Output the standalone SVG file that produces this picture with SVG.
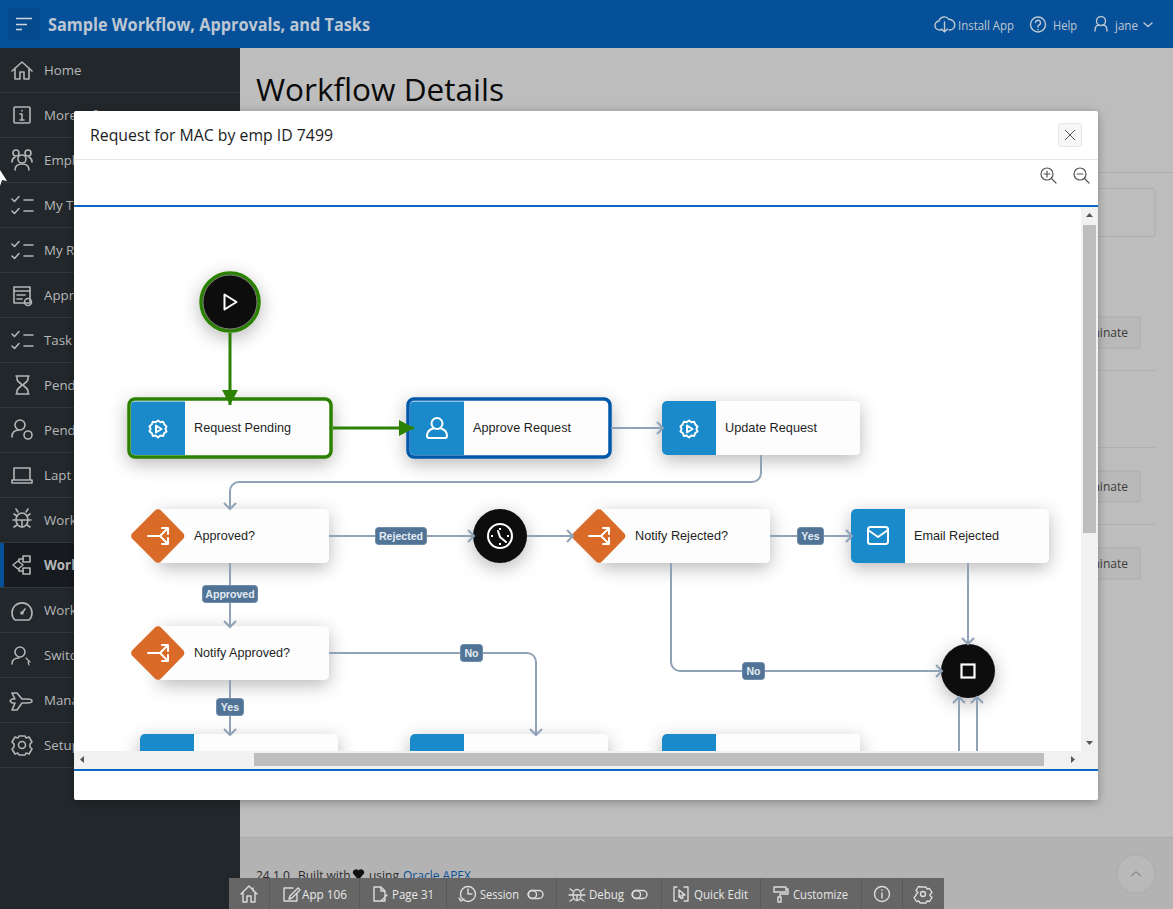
<svg xmlns="http://www.w3.org/2000/svg" xmlns:xlink="http://www.w3.org/1999/xlink" width="1173" height="909" viewBox="0 0 1173 909">
<style>
.ui{font-family:"Open Sans","Noto Sans",sans-serif}
.side{font-family:"Open Sans","Noto Sans",sans-serif;font-size:13.3px;fill:#b6b8b9}
.sep{stroke:#32373b;stroke-width:1}
.ic{fill:none;stroke:#b3b5b6;stroke-width:1.6;stroke-linecap:round;stroke-linejoin:round}
.hi{fill:none;stroke:#c0c8d2;stroke-width:1.4;stroke-linecap:round;stroke-linejoin:round}
.ti{fill:none;stroke:#dcdcdc;stroke-width:1.4;stroke-linecap:round;stroke-linejoin:round}
.tt{font-family:"Open Sans","Noto Sans",sans-serif;font-size:12.5px;fill:#e8e8e8}
.tsep{stroke:#5a5a5a;stroke-width:1}
.card{fill:#fdfdfd}
.blue{fill:#1a8aca}
.or{fill:#da6a27}
.lb{font-family:"Liberation Sans",Arial,sans-serif;font-size:13.6px;fill:#1f1f1f}
.wi{fill:none;stroke:#fff;stroke-width:2;stroke-linecap:round;stroke-linejoin:round}
.con{fill:none;stroke:#8fa2b7;stroke-width:2;marker-end:url(#chev)}
.cong{fill:none;stroke:#2c8100;stroke-width:3;marker-end:url(#tri)}
.pill{fill:#507396;stroke:#6f8cab;stroke-width:1}
.pt{font-family:"Liberation Sans",Arial,sans-serif;font-size:10.6px;font-weight:bold;fill:#e3ebf3;text-anchor:middle}
.mic{fill:none;stroke:#555;stroke-width:1.2;stroke-linecap:round}
.bg{font-family:"Open Sans","Noto Sans",sans-serif;font-size:12px;fill:#3c3c3c}
</style>
<defs>
<marker id="chev" markerUnits="userSpaceOnUse" markerWidth="14" markerHeight="16" refX="11" refY="8" orient="auto"><path d="M5 2 L11 8 L5 14" fill="none" stroke="#8fa2b7" stroke-width="2"/></marker>
<marker id="tri" markerUnits="userSpaceOnUse" markerWidth="18" markerHeight="18" refX="15" refY="8" orient="auto"><path d="M0 0 L15 8 L0 16 Z" fill="#2c8100"/></marker>
<filter id="sh" x="-30%" y="-40%" width="160%" height="200%"><feDropShadow dx="0" dy="5" stdDeviation="9" flood-color="#000" flood-opacity=".28"/></filter>
<filter id="shm" x="-5%" y="-5%" width="110%" height="110%"><feDropShadow dx="0" dy="2" stdDeviation="5" flood-color="#000" flood-opacity=".3"/></filter>
<clipPath id="view"><rect x="74" y="207" width="1007" height="544"/></clipPath>
<clipPath id="foot"><rect x="240" y="840" width="933" height="38"/></clipPath>
<g id="i-check"><path class="ic" d="M-10 -6 l2.5 2.5 l4.5 -5 M2 -5 h9 M-10 6 l2.5 2.5 l4.5 -5 M2 6 h9"/></g>
<g id="i-gear"><path class="wi" d="M0 -8 l2.5 2 l3 -.6 l1.2 3 l2.3 2 l-1.2 2.6 l1.2 2.6 l-2.5 1.8 l-1 3 l-3 -.5 l-2.5 2 l-2.5 -2 l-3 .5 l-1 -3 l-2.5 -1.8 l1.2 -2.6 l-1.2 -2.6 l2.3 -2 l1.2 -3 l3 .6 Z" transform="translate(0,-1) scale(.95)"/><path class="wi" stroke-width="1.6" d="M-2 -3.5 L3.5 0 L-2 3.5 Z"/></g>
<g id="i-split"><path class="wi" d="M-10 0 H2 L10 -8 M2 0 L10 8 M4 -8 H10 V-2 M4 8 H10 V2"/></g>
<g id="i-user"><circle cx="0" cy="-4.5" r="5.5" class="wi"/><path class="wi" d="M-4 0.5 C-9 2 -10 5 -10 8 C-10 9.5 -9 10 -8 10 H8 C9 10 10 9.5 10 8 C10 5 9 2 4 0.5"/></g>
</defs>

<g id="page">
<rect width="1173" height="909" fill="#bdbdbd"/>
<rect x="240" y="838" width="933" height="71" fill="#b3b3b3"/>
<line x1="240" y1="837.500" x2="1173" y2="837.500" stroke="#aaa"/>
<text x="256" y="101" font-family="Open Sans,Noto Sans,sans-serif" font-size="31" font-weight="500" fill="#0a0a0a" textLength="248" lengthAdjust="spacingAndGlyphs">Workflow Details</text>
<line x1="1098" y1="172.500" x2="1173" y2="172.500" stroke="#adadad"/>
<rect x="1090" y="188.500" width="65" height="48" rx="2" fill="#bdbdbd" stroke="#adadad"/>
<g fill="#b9b9b9" stroke="#adadad"><rect x="1090" y="317" width="50" height="31" rx="2"/><rect x="1090" y="471" width="50" height="31" rx="2"/><rect x="1090" y="548" width="50" height="31" rx="2"/></g>
<g class="bg"><text x="1092.500" y="337">ninate</text><text x="1092.500" y="491">ninate</text><text x="1092.500" y="568">ninate</text></g>
<g stroke="#b0b0b0"><line x1="1098" y1="370.500" x2="1156" y2="370.500"/><line x1="1098" y1="447.500" x2="1156" y2="447.500"/><line x1="1098" y1="524.500" x2="1156" y2="524.500"/></g>
<g clip-path="url(#foot)" font-family="Open Sans,Noto Sans,sans-serif" font-size="12" fill="#2a2a2a"><text x="256" y="880">24.1.0</text><text x="298" y="880">Built with</text><path d="M358.500 880 L353 873.500 a3.200 3.200 0 0 1 5.500 -3 a3.200 3.200 0 0 1 5.500 3 Z" fill="#111"/><text x="369" y="880">using</text><text x="403" y="880" fill="#0a4f96">Oracle APEX</text></g>
<circle cx="1136" cy="874" r="19" fill="#b9b9b9" stroke="#adadad"/>
<path d="M1131 876 l5 -4 l5 4" fill="none" stroke="#8f8f8f" stroke-width="1.500"/>
</g>

<g id="sidebar">
<rect x="0" y="48" width="240" height="861" fill="#22272b"/>
<rect x="0" y="543" width="240" height="44" fill="#171b1f"/>
<rect x="0" y="543" width="4" height="44" fill="#055098"/>
<g class="sep">
<line x1="0" x2="240" y1="92.500" y2="92.500"/><line x1="0" x2="240" y1="137.500" y2="137.500"/><line x1="0" x2="240" y1="182.500" y2="182.500"/><line x1="0" x2="240" y1="227.500" y2="227.500"/><line x1="0" x2="240" y1="272.500" y2="272.500"/><line x1="0" x2="240" y1="317.500" y2="317.500"/><line x1="0" x2="240" y1="362.500" y2="362.500"/><line x1="0" x2="240" y1="407.500" y2="407.500"/><line x1="0" x2="240" y1="452.500" y2="452.500"/><line x1="0" x2="240" y1="497.500" y2="497.500"/><line x1="0" x2="240" y1="542.500" y2="542.500"/><line x1="0" x2="240" y1="587.500" y2="587.500"/><line x1="0" x2="240" y1="632.500" y2="632.500"/><line x1="0" x2="240" y1="677.500" y2="677.500"/><line x1="0" x2="240" y1="722.500" y2="722.500"/><line x1="0" x2="240" y1="767.500" y2="767.500"/>
</g>
<g class="side">
<text x="44" y="75">Home</text><text x="44" y="120">More Information</text><text x="44" y="165">Empl</text><text x="44" y="210">My T</text><text x="44" y="255">My R</text><text x="44" y="300">Appr</text><text x="44" y="345">Task A</text><text x="44" y="390">Pend</text><text x="44" y="435">Pend</text><text x="44" y="480">Lapt</text><text x="44" y="525">Work</text><text x="44" y="570" font-weight="700">Work</text><text x="44" y="615">Work</text><text x="44" y="660">Switc</text><text x="44" y="705">Mana</text><text x="44" y="750">Setup</text>
</g>
<path class="ic" d="M12 71 L22 62 L32 71 M15 68 V79 H20 V72 H24 V79 H29 V68"/>
<rect class="ic" x="14" y="107" width="16" height="16" rx="1"/><path class="ic" d="M22 110.500 v.5 M20 114 h2 v6 M20 120 h4"/>
<g class="ic"><circle cx="22" cy="159" r="4"/><circle cx="16" cy="153" r="3"/><circle cx="28" cy="153" r="3"/><path d="M15 170 c0 -4 3 -6 7 -6 s7 2 7 6 M12 162 c0 -3 1 -4 3 -5 M32 162 c0 -3 -1 -4 -3 -5"/></g>
<use xlink:href="#i-check" href="#i-check" x="22" y="205"/>
<use xlink:href="#i-check" href="#i-check" x="22" y="250"/>
<g class="ic"><rect x="14" y="287" width="16" height="16"/><path d="M14 291 h16 M17 295 h8 M17 299 h5"/><circle cx="28" cy="302" r="3.500"/></g>
<use xlink:href="#i-check" href="#i-check" x="22" y="340"/>
<path class="ic" d="M16 376 h13 M16 394 h13 M17 376 v3 c0 3 5 5 5 6 c0 1 -5 3 -5 6 v3 M28 376 v3 c0 3 -5 5 -5 6 c0 1 5 3 5 6 v3"/>
<g class="ic"><circle cx="20" cy="425" r="5"/><path d="M12 437 c0 -5 3 -7 7 -7"/><circle cx="28" cy="435" r="4"/></g>
<path class="ic" d="M14 468 h16 v12 h-16 Z M12 480 h20 v3 h-20 Z"/>
<g class="ic"><ellipse cx="22" cy="520" rx="6" ry="7"/><path d="M16 520 h12 M22 520 v7 M14 514 l3 2 M30 514 l-3 2 M13 520 h3 M31 520 h-3 M14 527 l3 -2 M30 527 l-3 -2 M18 512 l-2 -3 M26 512 l2 -3"/></g>
<g class="ic"><path d="M13 565 l5 -4 l5 4 l-5 4 Z"/><rect x="23" y="556" width="7" height="6"/><rect x="23" y="568" width="7" height="6"/><path d="M19 561 v-2 h4 M19 569 v2 h4"/></g>
<g class="ic"><path d="M15 620 a10 10 0 1 1 14 0 Z"/><path d="M22 613 l3 -4"/><circle cx="22" cy="613" r="1"/></g>
<g class="ic"><circle cx="20" cy="652" r="5"/><path d="M12 664 c0 -4 3 -6 7 -6"/><path d="M26 658 l4 4 h-2 l1 3" stroke-width="1.200"/></g>
<path class="ic" d="M12 693 h5 l5 6 h5 c3 0 5 1 5 2 s-2 2 -5 2 h-5 l-5 7 h-5 l3 -7 h-3 l-2 -2 l2 -2 h3 Z"/>
<g class="ic"><circle cx="22" cy="745" r="3.500"/><path d="M19 736 h6 l1 2 l3 -1 l3 5 l-2 2 v3 l2 2 l-3 5 l-3 -1 l-1 2 h-6 l-1 -2 l-3 1 l-3 -5 l2 -2 v-3 l-2 -2 l3 -5 l3 1 Z"/></g>
</g>

<g id="header">
<rect width="1173" height="48" fill="#055098"/>
<rect x="8" y="8" width="32" height="32" rx="2" fill="#044a8c"/>
<path d="M16 18.500 h16 M16 24.500 h11 M16 29.500 h6" stroke="#d0d6dc" stroke-width="1.600" fill="none"/>
<text x="48" y="31" font-family="Open Sans,Noto Sans,sans-serif" font-size="18" font-weight="700" fill="#bcc7d3" textLength="322" lengthAdjust="spacingAndGlyphs">Sample Workflow, Approvals, and Tasks</text>
<path class="hi" d="M941 30 h-1 a4.500 4.500 0 0 1 -1 -9 a5.500 5.500 0 0 1 10 -1.500 a4.500 4.500 0 0 1 1 10.500 h-1 M944.500 22 v10 m-3 -3 l3 3 l3 -3"/>
<text x="958" y="30" font-family="Open Sans,Noto Sans,sans-serif" font-size="12.500" fill="#c0c8d2" textLength="56" lengthAdjust="spacingAndGlyphs">Install App</text>
<circle class="hi" cx="1038" cy="24.500" r="7.500"/><path class="hi" d="M1035.500 22.500 a2.500 2.500 0 1 1 3.500 2.500 l-1 1 v1 M1038 29.500 v.2"/>
<text x="1053" y="30" font-family="Open Sans,Noto Sans,sans-serif" font-size="12.500" fill="#c0c8d2" textLength="24" lengthAdjust="spacingAndGlyphs">Help</text>
<circle class="hi" cx="1101" cy="21" r="4.500"/><path class="hi" d="M1095 31 c0 -4 2 -6 4 -6 M1107 31 c0 -4 -2 -6 -4 -6"/>
<text x="1115" y="30" font-family="Open Sans,Noto Sans,sans-serif" font-size="12.500" fill="#c0c8d2" textLength="23" lengthAdjust="spacingAndGlyphs">jane</text>
<path class="hi" d="M1144 23 l4 3.500 l4 -3.500"/>
</g>

<g id="cursor"><path d="M0 170 L7 181 L2 180 L0 186 Z" fill="#fff"/></g>

<g id="modal">
<rect x="74" y="111" width="1024" height="689" rx="2" fill="#fff" filter="url(#shm)"/>
<text x="90" y="141" font-family="Open Sans,Noto Sans,sans-serif" font-size="15.500" fill="#1c1c1c" textLength="243" lengthAdjust="spacingAndGlyphs">Request for MAC by emp ID 7499</text>
<line x1="74" y1="159.500" x2="1098" y2="159.500" stroke="#e6e6e6"/>
<rect x="1058.500" y="123.500" width="23" height="23" rx="2" fill="#f7f7f7" stroke="#e6e6e6"/>
<path d="M1065 130 l10 10 M1075 130 l-10 10" stroke="#555" stroke-width="1" fill="none"/>
<g class="mic"><circle cx="1047" cy="174" r="6"/><path d="M1051.500 178.500 l4.500 4.500 M1044 174 h6 M1047 171 v6"/><circle cx="1080" cy="174" r="6"/><path d="M1084.500 178.500 l4.500 4.500 M1077 174 h6"/></g>
<rect x="74" y="205" width="1024" height="2" fill="#0a66c2"/>
<rect x="74" y="769" width="1024" height="2" fill="#0a66c2"/>
</g>

<g clip-path="url(#view)">
<g id="node-bottom-1"><rect class="card" x="140" y="734" width="198" height="54" rx="5" filter="url(#sh)"/><path class="blue" d="M145 734 H194 V788 H140 V739 a5 5 0 0 1 5 -5 Z"/></g>
<g id="node-bottom-2"><rect class="card" x="410" y="734" width="198" height="54" rx="5" filter="url(#sh)"/><path class="blue" d="M415 734 H464 V788 H410 V739 a5 5 0 0 1 5 -5 Z"/></g>
<g id="node-bottom-3"><rect class="card" x="662" y="734" width="198" height="54" rx="5" filter="url(#sh)"/><path class="blue" d="M667 734 H716 V788 H662 V739 a5 5 0 0 1 5 -5 Z"/></g>

<g id="node-start">
<circle cx="230" cy="302" r="29" fill="#0b0b0b" stroke="#2c8100" stroke-width="3.500" filter="url(#sh)"/>
<circle cx="230" cy="302" r="27" fill="none" stroke="#9a9a9a" stroke-width=".8"/>
<path class="wi" d="M224.500 294.500 L236.500 302 L224.500 309.500 Z"/>
</g>
<g id="node-request-pending">
<rect x="129" y="399" width="202" height="58" rx="6" fill="#fdfdfd" stroke="#2c8100" stroke-width="3.500" filter="url(#sh)"/>
<path class="blue" d="M135 401.500 H185 V455 H135 a4 4 0 0 1 -4 -4 V405.500 a4 4 0 0 1 4 -4 Z"/>
<use xlink:href="#i-gear" href="#i-gear" x="158" y="429"/>
<text class="lb" x="194" y="432" textLength="97" lengthAdjust="spacingAndGlyphs">Request Pending</text>
</g>
<g id="node-approve-request">
<rect x="408" y="399" width="202" height="58" rx="6" fill="#fdfdfd" stroke="#0559ab" stroke-width="3.500" filter="url(#sh)"/>
<path class="blue" d="M414 401.500 H464 V455 H414 a4 4 0 0 1 -4 -4 V405.500 a4 4 0 0 1 4 -4 Z"/>
<use xlink:href="#i-user" href="#i-user" x="437" y="428"/>
<text class="lb" x="473" y="432" textLength="98" lengthAdjust="spacingAndGlyphs">Approve Request</text>
</g>
<g id="node-update-request">
<rect class="card" x="662" y="401" width="198" height="54" rx="5" filter="url(#sh)"/>
<path class="blue" d="M667 401 H716 V455 H667 a5 5 0 0 1 -5 -5 V406 a5 5 0 0 1 5 -5 Z"/>
<use xlink:href="#i-gear" href="#i-gear" x="689" y="429"/>
<text class="lb" x="725" y="432" textLength="92" lengthAdjust="spacingAndGlyphs">Update Request</text>
</g>
<g id="node-approved">
<rect class="card" x="158" y="509" width="171" height="54" rx="5" filter="url(#sh)"/>
<path class="or" d="M155 510.500 a4 4 0 0 1 6 0 L183 533 a4 4 0 0 1 0 6 L161 561.500 a4 4 0 0 1 -6 0 L132.500 539 a4 4 0 0 1 0 -6 Z"/>
<use xlink:href="#i-split" href="#i-split" x="158" y="536"/>
<text class="lb" x="194" y="540" textLength="61" lengthAdjust="spacingAndGlyphs">Approved?</text>
</g>
<g id="node-timer">
<circle cx="500" cy="536" r="27" fill="#0b0b0b" filter="url(#sh)"/>
<circle class="wi" cx="500" cy="536" r="12"/>
<path class="wi" d="M498 531 L500 537 L506 542"/>
<path d="M491 536 h2 M507 536 h2 M500 528 v2 M500 545 v-2" stroke="#fff" stroke-width="2"/>
</g>
<g id="node-notify-rejected">
<rect class="card" x="599" y="509" width="171" height="54" rx="5" filter="url(#sh)"/>
<path class="or" d="M596 510.500 a4 4 0 0 1 6 0 L624 533 a4 4 0 0 1 0 6 L602 561.500 a4 4 0 0 1 -6 0 L573.500 539 a4 4 0 0 1 0 -6 Z"/>
<use xlink:href="#i-split" href="#i-split" x="599" y="536"/>
<text class="lb" x="635" y="540" textLength="93" lengthAdjust="spacingAndGlyphs">Notify Rejected?</text>
</g>
<g id="node-email-rejected">
<rect class="card" x="851" y="509" width="198" height="54" rx="5" filter="url(#sh)"/>
<path class="blue" d="M856 509 H905 V563 H856 a5 5 0 0 1 -5 -5 V514 a5 5 0 0 1 5 -5 Z"/>
<rect class="wi" x="868" y="527" width="20" height="17" rx="2.500"/><path class="wi" d="M868 530 L878 537 L888 530"/>
<text class="lb" x="914" y="540" textLength="85" lengthAdjust="spacingAndGlyphs">Email Rejected</text>
</g>
<g id="node-notify-approved">
<rect class="card" x="158" y="626" width="171" height="54" rx="5" filter="url(#sh)"/>
<path class="or" d="M155 627.500 a4 4 0 0 1 6 0 L183 650 a4 4 0 0 1 0 6 L161 678.500 a4 4 0 0 1 -6 0 L132.500 656 a4 4 0 0 1 0 -6 Z"/>
<use xlink:href="#i-split" href="#i-split" x="158" y="653"/>
<text class="lb" x="194" y="657" textLength="96" lengthAdjust="spacingAndGlyphs">Notify Approved?</text>
</g>
<g id="node-end">
<circle cx="968" cy="671" r="27" fill="#0b0b0b" filter="url(#sh)"/>
<rect x="961.500" y="664.500" width="13" height="13" fill="none" stroke="#fff" stroke-width="2.200"/>
</g>

<g id="connectors">
<path class="cong" d="M230 333 V405"/>
<path class="cong" d="M333 428 H414"/>
<path class="con" d="M611 428 H663"/>
<path class="con" d="M761 455 V473 a9 9 0 0 1 -9 9 H239 a9 9 0 0 0 -9 9 V509"/>
<path class="con" d="M329 536 H474"/>
<path class="con" d="M527 536 H573"/>
<path class="con" d="M770 536 H852"/>
<path class="con" d="M968 563 V644"/>
<path class="con" d="M671 563 V662 a9 9 0 0 0 9 9 H942"/>
<path class="con" d="M230 563 V627"/>
<path class="con" d="M329 653 H527 a9 9 0 0 1 9 9 V735"/>
<path class="con" d="M230 680 V735"/>
<path class="con" d="M959 760 V697"/>
<path class="con" d="M977 760 V697"/>
<rect class="pill" x="375.500" y="527.500" width="51" height="17" rx="3"/><text class="pt" x="401" y="540">Rejected</text>
<rect class="pill" x="797.500" y="527.500" width="26" height="17" rx="3"/><text class="pt" x="810.500" y="540">Yes</text>
<rect class="pill" x="202.500" y="585.500" width="55" height="17" rx="3"/><text class="pt" x="230" y="598">Approved</text>
<rect class="pill" x="460.500" y="644.500" width="22" height="17" rx="3"/><text class="pt" x="471.500" y="657">No</text>
<rect class="pill" x="742.500" y="662.500" width="22" height="17" rx="3"/><text class="pt" x="753.500" y="675">No</text>
<rect class="pill" x="216.500" y="698.500" width="27" height="17" rx="3"/><text class="pt" x="230" y="711">Yes</text>
</g>
</g>

<g id="scrollbars">
<rect x="74" y="751" width="1024" height="18" fill="#f1f1f1"/>
<rect x="1081" y="207" width="17" height="562" fill="#f1f1f1"/>
<rect x="254" y="753" width="790" height="13" fill="#bdbdbd"/>
<rect x="1083" y="225" width="13" height="308" fill="#bdbdbd"/>
<path d="M80 759.500 l4 -3.500 v7 Z M1075 759.500 l-4 -3.500 v7 Z M1089.500 213 l3.500 4 h-7 Z M1089.500 745 l3.500 -4 h-7 Z" fill="#555"/>
</g>

<g id="toolbar">
<rect x="229" y="878" width="715" height="31" fill="#666"/>
<g class="tsep"><line x1="269.500" x2="269.500" y1="878" y2="909"/><line x1="359.500" x2="359.500" y1="878" y2="909"/><line x1="446.500" x2="446.500" y1="878" y2="909"/><line x1="556.500" x2="556.500" y1="878" y2="909"/><line x1="661.500" x2="661.500" y1="878" y2="909"/><line x1="760.500" x2="760.500" y1="878" y2="909"/><line x1="861.500" x2="861.500" y1="878" y2="909"/><line x1="902.500" x2="902.500" y1="878" y2="909"/></g>
<g class="tt">
<text x="302" y="899" textLength="45" lengthAdjust="spacingAndGlyphs">App 106</text>
<text x="392" y="899" textLength="42" lengthAdjust="spacingAndGlyphs">Page 31</text>
<text x="480" y="899" textLength="39" lengthAdjust="spacingAndGlyphs">Session</text>
<text x="589" y="899" textLength="35" lengthAdjust="spacingAndGlyphs">Debug</text>
<text x="694" y="899" textLength="54" lengthAdjust="spacingAndGlyphs">Quick Edit</text>
<text x="793" y="899" textLength="55" lengthAdjust="spacingAndGlyphs">Customize</text>
</g>
<g class="ti">
<path d="M241 894 L249 886 L257 894 M243 892 V902 H247 V896 H251 V902 H255 V892 M253 888 v3"/>
<path d="M284 888 h9 M284 888 v13 h13 v-8 M290 896 l8 -8 l2 2 l-8 8 l-3 1 Z"/>
<path d="M374 887 h7 l4 4 v10 h-11 Z M381 887 v4 h4 M381 901 l6 -6"/>
<circle cx="468" cy="894" r="7.500"/><path d="M468 889 v5 h4 M459 898 l2 3 l3 -2"/>
<rect x="528" y="890.500" width="15" height="8" rx="4"/><circle cx="532.500" cy="894.500" r="4"/>
<ellipse cx="577" cy="895" rx="4" ry="5.500"/><path d="M573 895 h8 M577 895 v5 M570 889 l3 2 M584 889 l-3 2 M570 901 l3 -2 M584 901 l-3 -2 M569 895 h4 M585 895 h-4"/>
<rect x="632" y="890.500" width="15" height="8" rx="4"/><circle cx="636.500" cy="894.500" r="4"/>
<path d="M677 887 h-3 v14 h3 M684 887 h4 v14 h-4 M679 890 l6 5 h-3 l1 3 l-2 .5 l-1 -3 l-1 2 Z"/>
<path d="M774 887 h12 v5 h-12 Z M786 889 h2 v5 h-8 v3 h-2 v5 h3 v-5"/>
<circle cx="882" cy="894" r="7.500"/><path d="M882 890 v.4 M882 893 v5"/>
<circle cx="923" cy="894" r="2.500"/><path d="M920 887 h6 l1 2 l2.500 -.5 l2.500 4 l-2 2 v1 l2 2 l-2.500 4 l-2.500 -.5 l-1 2 h-6 l-1 -2 l-2.500 .5 l-2.500 -4 l2 -2 v-1 l2 -2 l-2 -2 l2.500 -4 l2.500 .5 Z"/>
</g>
</g>
</svg>
